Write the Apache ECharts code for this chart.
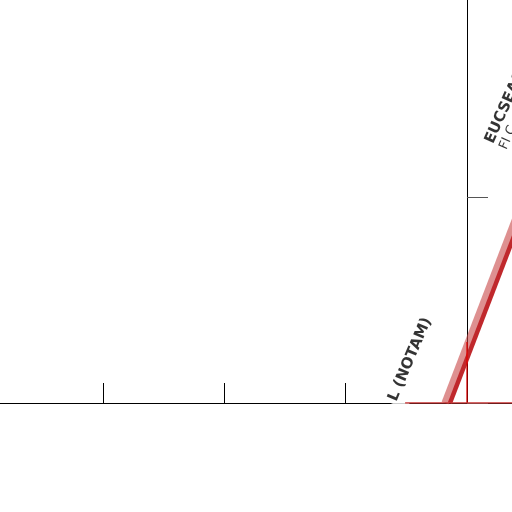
<!DOCTYPE html>
<html><head><meta charset="utf-8">
<script src="https://cdn.jsdelivr.net/npm/echarts@6/dist/echarts.min.js"></script>
<style>html,body{margin:0;padding:0;background:#fff}#c{width:512px;height:512px}</style>
</head><body><div id="c"></div>
<script>
// x: distance units, y: altitude units (axis crosses at x=0)
const xTicks = [-4, -3, -2, -1, 0, 1];
const yTicks = [0, 1, 2];
const bandPath = [[-0.18, 0], [0.55, 1.12]];
const profilePath = [[-0.14, 0], [0.59, 1.12]];
const floorSegment = [[-0.51, 0], [1, 0]];
const markerSegment = [[0, 0], [0, 0.296]];
const labelTexts = ['L (NOTAM)', 'EUCSEA01', 'FI C'];
const labelPoints = [[-0.497, -0.033], [0.35, 1.22]];

const chart = echarts.init(document.getElementById('c'), null, {renderer: 'canvas'});
chart.setOption({
  animation: false,
  grid: {left: -18.33, right: -76.33, top: -9, bottom: 109, outerBoundsMode: 'none'},
  xAxis: {
    type: 'value', min: xTicks[0], max: xTicks[xTicks.length - 1], interval: 1,
    axisLine: {onZero: true, lineStyle: {color: '#000', width: 1}},
    axisTick: {show: true, inside: true, length: 20, lineStyle: {color: '#000', width: 1}},
    axisLabel: {show: false}, splitLine: {show: false}
  },
  yAxis: {
    type: 'value', min: yTicks[0], max: yTicks[yTicks.length - 1], interval: 1,
    axisLine: {show: true, onZero: true, lineStyle: {color: '#000', width: 1}},
    axisTick: {show: true, inside: true, length: 21, lineStyle: {color: '#555', width: 1}},
    axisLabel: {show: false}, splitLine: {show: false}
  },
  series: [
    {type: 'line', data: floorSegment, symbol: 'none', silent: true, z: 6,
     lineStyle: {color: '#c83232', width: 1.5}},
    {type: 'line', data: bandPath, symbol: 'none', silent: true,
     lineStyle: {color: 'rgba(200,70,70,0.6)', width: 7.5}},
    {type: 'line', data: profilePath, symbol: 'none', silent: true,
     lineStyle: {color: '#c0282c', width: 4.5}},
    {type: 'line', data: markerSegment, symbol: 'none', silent: true,
     lineStyle: {color: 'rgba(225,0,0,0.85)', width: 1.5}},
    {type: 'scatter', symbolSize: 0, silent: true, z: 5, clip: false,
     data: [
       {value: labelPoints[0], label: {show: true, position: 'inside', align: 'left', verticalAlign: 'bottom',
         rotate: 67, formatter: labelTexts[0], fontFamily: 'DejaVu Sans', fontWeight: 'bold', fontSize: 15,
         color: '#000', backgroundColor: '#fff', padding: [0, 0, 9, 3]}},
       {value: labelPoints[1], label: {show: true, position: 'inside', align: 'left', verticalAlign: 'bottom',
         rotate: 66, formatter: '{a|' + labelTexts[1] + '}\n{b|' + labelTexts[2] + '}',
         rich: {a: {fontFamily: 'DejaVu Sans', fontWeight: 'bold', fontSize: 15, color: '#000', lineHeight: 16},
                b: {fontFamily: 'DejaVu Sans', fontSize: 13, color: '#000', lineHeight: 14}}}}
     ]}
  ]
});
</script></body></html>
